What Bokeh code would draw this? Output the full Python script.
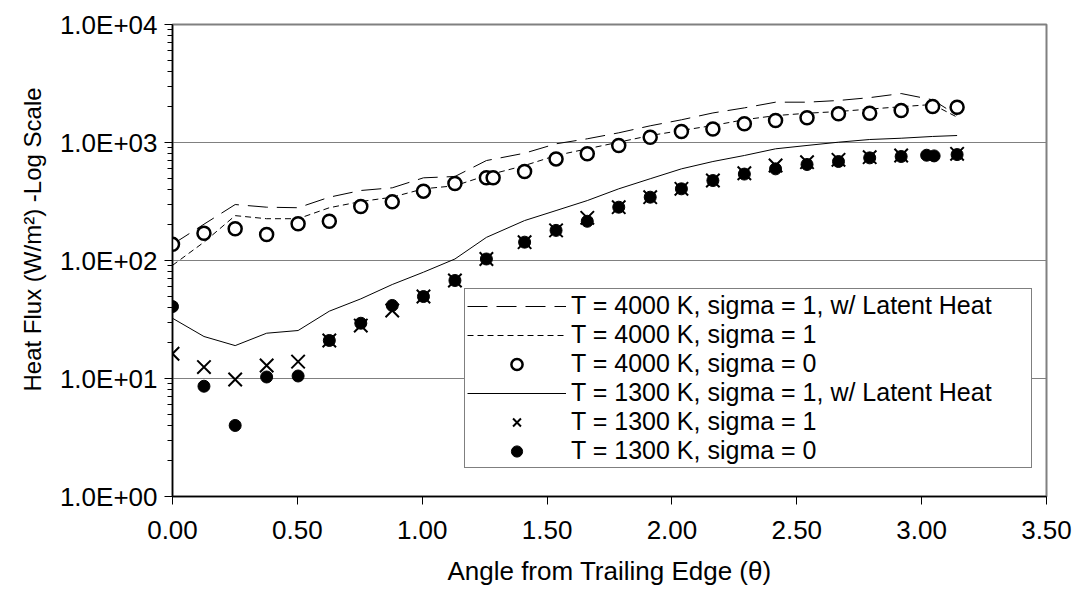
from bokeh.plotting import figure
from bokeh.models import FixedTicker, CustomJSTickFormatter, NumeralTickFormatter, Title
from bokeh.embed import file_html
from bokeh.resources import INLINE

# ---------------- data ----------------
THETA = [0.000, 0.126, 0.251, 0.377, 0.503, 0.628, 0.754, 0.880, 1.005, 1.131,
         1.257, 1.410, 1.536, 1.661, 1.787, 1.913, 2.038, 2.164, 2.290, 2.415,
         2.541, 2.667, 2.792, 2.918, 3.044, 3.142]

LATENT_4000 = [137, 203, 298, 283, 280, 344, 392, 413, 502, 515,
               703, 812, 975, 1075, 1208, 1385, 1557, 1780, 1965, 2196,
               2196, 2270, 2400, 2600, 2300, 1700]

SIGMA1_4000 = [91, 143, 240, 226, 226, 280, 316, 344, 405, 430,
               525, 638, 776, 884, 1006, 1146, 1264, 1393, 1560, 1690,
               1770, 1830, 1920, 2010, 2100, 1640]

THETA_S0_4000 = [0.000, 0.126, 0.251, 0.377, 0.503, 0.628, 0.754, 0.880, 1.005, 1.131,
                 1.257, 1.284, 1.410, 1.536, 1.661, 1.787, 1.913, 2.038, 2.164, 2.290,
                 2.415, 2.541, 2.667, 2.792, 2.918, 3.044, 3.142]
SIGMA0_4000 = [137, 170, 186, 166, 205, 215, 287, 314, 387, 450,
               502, 502, 568, 726, 802, 944, 1109, 1240, 1300, 1442,
               1536, 1620, 1750, 1771, 1866, 2018, 1992]

LATENT_1300 = [32.4, 22.7, 19.0, 24.2, 25.5, 37.2, 47.3, 62.6, 79.6, 103,
               157, 218, 265, 322, 405, 493, 598, 690, 776, 884,
               944, 1006, 1060, 1087, 1125, 1146]

THETA_S1_1300 = [0.000, 0.126, 0.251, 0.377, 0.503, 0.628, 0.754, 0.880, 1.005, 1.131,
                 1.257, 1.410, 1.536, 1.661, 1.787, 1.913, 2.038, 2.164, 2.290, 2.415,
                 2.541, 2.667, 2.792, 2.918, 3.142]
SIGMA1_1300 = [16.2, 12.5, 9.8, 12.9, 13.9, 21, 28.1, 37.7, 49.5, 67.7,
               103, 143, 180, 230, 283, 344, 405, 476, 549, 638,
               681, 713, 751, 776, 802]

THETA_S0_1300 = [0.000, 0.126, 0.251, 0.377, 0.503, 0.628, 0.754, 0.880, 1.005, 1.131,
                 1.257, 1.410, 1.536, 1.661, 1.787, 1.913, 2.038, 2.164, 2.290, 2.415,
                 2.541, 2.667, 2.792, 2.918, 3.020, 3.050, 3.142]
SIGMA0_1300 = [40.7, 8.6, 4.0, 10.3, 10.5, 21, 29.4, 41.6, 49.5, 67.7,
               103, 143, 180, 215, 283, 344, 405, 476, 540, 598,
               651, 690, 741, 761, 780, 770, 790]

X_TICKS = [0.0, 0.5, 1.0, 1.5, 2.0, 2.5, 3.0, 3.5]
Y_TICKS = [1, 10, 100, 1000, 10000]
Y_MINOR = [m * d for d in [1, 10, 100, 1000] for m in [2, 3, 4, 5, 6, 7, 8, 9]]

LABELS = ["T = 4000 K, sigma = 1, w/ Latent Heat",
          "T = 4000 K, sigma = 1",
          "T = 4000 K, sigma = 0",
          "T = 1300 K, sigma = 1, w/ Latent Heat",
          "T = 1300 K, sigma = 1",
          "T = 1300 K, sigma = 0"]

X_TITLE = "Angle from Trailing Edge (\u03b8)"
Y_TITLE = "Heat Flux (W/m\u00b2) -Log Scale"

FONT = "Liberation Sans"
FS = "26px"

p = figure(width=1078, height=603, y_axis_type="log",
           x_range=(0, 3.5), y_range=(1, 10000),
           output_backend="svg", toolbar_location=None,
           min_border_left=172, min_border_right=32,
           min_border_top=24, min_border_bottom=107)

p.background_fill_color = "white"
p.border_fill_color = "white"
p.outline_line_color = "#808080"
p.outline_line_width = 2

# axes
p.xaxis.ticker = FixedTicker(ticks=X_TICKS)
p.xaxis.formatter = NumeralTickFormatter(format="0.00")
p.yaxis.ticker = FixedTicker(ticks=Y_TICKS, minor_ticks=Y_MINOR)
p.yaxis.formatter = CustomJSTickFormatter(
    code="const e = Math.round(Math.log10(tick)); return '1.0E+' + (e < 10 ? '0' : '') + e;")

for ax in (p.xaxis[0], p.yaxis[0]):
    ax.axis_line_color = "black"
    ax.axis_line_width = 1.5
    ax.major_tick_line_color = "black"
    ax.major_tick_in = 0
    ax.major_tick_out = 8
    ax.major_label_text_font = FONT
    ax.major_label_text_font_size = FS
    ax.major_label_text_color = "black"
    ax.axis_label_text_font = FONT
    ax.axis_label_text_font_size = FS
    ax.axis_label_text_font_style = "normal"
    ax.axis_label_text_color = "black"

p.xaxis.minor_tick_line_color = None
p.yaxis.minor_tick_line_color = "black"
p.yaxis.minor_tick_in = 0
p.yaxis.minor_tick_out = 5

p.xaxis.major_label_standoff = 16
p.yaxis.major_label_standoff = 7
p.xaxis.axis_label = X_TITLE
p.xaxis.axis_label_standoff = 14

# y title as a side title so it can sit slightly above the frame centre
ytitle = Title(text=Y_TITLE, align="left", offset=105,
               text_font=FONT, text_font_size="24px", text_font_style="normal",
               text_color="black", standoff=22)
p.add_layout(ytitle, "left")

p.xgrid.visible = False
p.ygrid.grid_line_color = "#808080"
p.ygrid.grid_line_width = 1

# series
p.line(THETA, LATENT_4000, line_color="black", line_width=1, line_dash="20 9",
       legend_label=LABELS[0])
p.line(THETA, SIGMA1_4000, line_color="black", line_width=1, line_dash="6 4",
       legend_label=LABELS[1])
p.scatter(THETA_S0_4000, SIGMA0_4000, marker="circle", size=13, line_color="black",
          line_width=2.5, fill_color="white", legend_label=LABELS[2])
p.line(THETA, LATENT_1300, line_color="black", line_width=1, legend_label=LABELS[3])
p.scatter(THETA_S0_1300, SIGMA0_1300, marker="circle", size=12, line_color="black",
          fill_color="black", legend_label=LABELS[5])
p.scatter(THETA_S1_1300, SIGMA1_1300, marker="x", size=19, line_color="black",
          line_width=2, legend_label=LABELS[4])

# legend
leg = p.legend[0]
items = {it.label.value: it for it in leg.items}
leg.items = [items[l] for l in LABELS]
leg.location = (292, 28)
leg.label_text_font = FONT
leg.label_text_font_size = "25px"
leg.label_text_color = "black"
leg.label_height = 28
leg.glyph_height = 28
leg.glyph_width = 99
leg.label_width = 458
leg.label_standoff = 5
leg.padding = 2
leg.spacing = 0
leg.margin = 0
leg.border_line_color = "black"
leg.border_line_width = 1
leg.background_fill_color = "white"
leg.background_fill_alpha = 1.0

open("out.html", "w").write(file_html(p, INLINE))
